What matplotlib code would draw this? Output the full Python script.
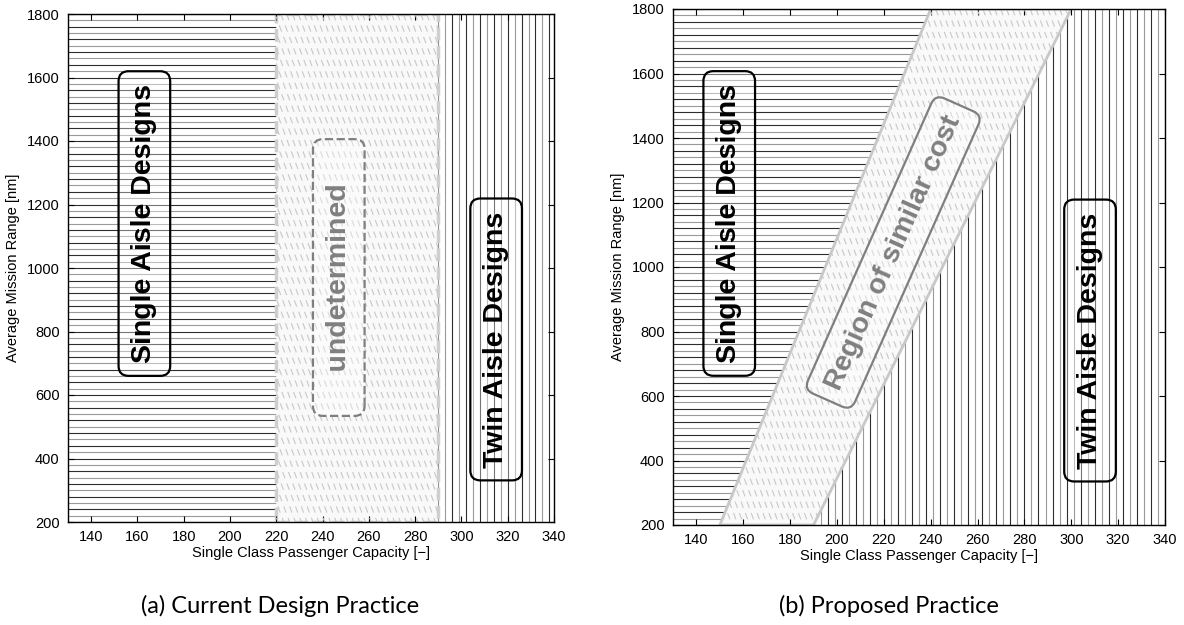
import numpy as np
import matplotlib
matplotlib.use('Agg')
import matplotlib.pyplot as plt
from matplotlib.patches import Polygon

plt.rcParams['font.family'] = ['Liberation Sans', 'DejaVu Sans']

# axis ranges and ticks
capacity_lim = [130, 340]
range_lim = [200, 1800]
x_ticks = list(range(140, 341, 20))
y_ticks = list(range(200, 1801, 200))

# (a) undetermined band in capacity
undetermined_band = [220, 290]
# (b) region of similar cost: capacity bounds at lowest and highest range
similar_bottom = [150, 190]
similar_top = [240, 300]

# spacing of the fill lines
range_step = 20
capacity_step = 3

LINE_COLORS = ['#2e2e2e', '#9a9a9a']


def hlines(ax, x0, x1, clip=None):
    ys = np.arange(range_lim[0], range_lim[1] + 1, range_step)
    cols = [LINE_COLORS[i % 2] for i in range(len(ys))]
    lc = ax.hlines(ys, x0, x1, colors=cols, lw=0.8, zorder=1)
    if clip is not None:
        lc.set_clip_path(clip)


def vlines(ax, x0, x1, clip=None):
    xs = np.arange(x0, x1 + 0.1, capacity_step)
    cols = [LINE_COLORS[i % 2] for i in range(len(xs))]
    lc = ax.vlines(xs, range_lim[0], range_lim[1], colors=cols, lw=0.8, zorder=1)
    if clip is not None:
        lc.set_clip_path(clip)


def hatch(ax, patch):
    for x0 in np.arange(-0.45, 1.05, 0.012):
        ln, = ax.plot([x0, x0 + 0.39], [1, 0], transform=ax.transAxes,
                      color='#c8c8c8', lw=0.8, dashes=(6, 5), zorder=2,
                      scalex=False, scaley=False)
        ln.set_clip_path(patch)


def label(ax, x, y, s, rot=90, color='black', ls='-'):
    ax.text(x, y, s, rotation=rot, ha='center', va='center', fontsize=20.5,
            fontweight='bold', color=color, zorder=5,
            bbox=dict(boxstyle='round,pad=0.45,rounding_size=0.35',
                      fc=(1, 1, 1, 0.35), ec=color, lw=1.6, ls=ls))


def setup(ax):
    ax.set_xlim(capacity_lim)
    ax.set_ylim(range_lim)
    ax.set_xticks(x_ticks)
    ax.set_yticks(y_ticks)
    ax.tick_params(direction='in', top=True, right=True, length=4,
                   width=0.8, labelsize=10.5, pad=6)
    ax.set_xlabel('Single Class Passenger Capacity [\u2212]', fontsize=10.5, labelpad=1)
    ax.set_ylabel('Average Mission Range [nm]', fontsize=10.5, labelpad=5)
    for sp in ax.spines.values():
        sp.set_linewidth(1.0)


fig = plt.figure(figsize=(11.84, 6.25), dpi=100)
ax1 = fig.add_axes([68 / 1184, (625 - 522) / 625, 486 / 1184, 508 / 625])
ax2 = fig.add_axes([673 / 1184, (625 - 525) / 625, 492 / 1184, 516 / 625])

# ---- (a) current design practice
hlines(ax1, capacity_lim[0], undetermined_band[0])
vlines(ax1, undetermined_band[1], capacity_lim[1])
band = Polygon([(undetermined_band[0], range_lim[0]), (undetermined_band[1], range_lim[0]),
                (undetermined_band[1], range_lim[1]), (undetermined_band[0], range_lim[1])],
               closed=True, fc='#f9f9f9', ec='#cfcfcf', lw=2.5, ls='--', zorder=1.5)
ax1.add_patch(band)
hatch(ax1, band)
label(ax1, 163, 1140, 'Single Aisle Designs')
label(ax1, 247, 970, '\u00a0\u00a0\u00a0\u00a0undetermined\u00a0\u00a0\u00a0\u00a0',
      color='#7f7f7f', ls='--')
label(ax1, 315, 775, 'Twin Aisle Designs')
setup(ax1)

# ---- (b) proposed practice
left_part = Polygon([(capacity_lim[0], range_lim[0]), (similar_bottom[0], range_lim[0]),
                     (similar_top[0], range_lim[1]), (capacity_lim[0], range_lim[1])],
                    closed=True, fc='none', ec='none')
right_part = Polygon([(similar_bottom[1], range_lim[0]), (capacity_lim[1], range_lim[0]),
                      (capacity_lim[1], range_lim[1]), (similar_top[1], range_lim[1])],
                     closed=True, fc='none', ec='none')
ax2.add_patch(left_part)
ax2.add_patch(right_part)
hlines(ax2, capacity_lim[0], capacity_lim[1], clip=left_part)
vlines(ax2, similar_bottom[1], capacity_lim[1], clip=right_part)
region = Polygon([(similar_bottom[0], range_lim[0]), (similar_bottom[1], range_lim[0]),
                  (similar_top[1], range_lim[1]), (similar_top[0], range_lim[1])],
                 closed=True, fc='#f9f9f9', ec='#c8c8c8', lw=2, zorder=1.5)
ax2.add_patch(region)
hatch(ax2, region)
label(ax2, 154, 1135, 'Single Aisle Designs')
label(ax2, 224, 1045, 'Region of similar cost', rot=66, color='#7f7f7f')
label(ax2, 308, 772, 'Twin Aisle Designs')
setup(ax2)

fig.text(280 / 1184, 0.03, '(a) Current Design Practice', ha='center', va='center',
         fontsize=17, family=['Lato', 'DejaVu Sans'])
fig.text(889 / 1184, 0.03, '(b) Proposed Practice', ha='center', va='center',
         fontsize=17, family=['Lato', 'DejaVu Sans'])

fig.savefig('out.png', dpi=100)
